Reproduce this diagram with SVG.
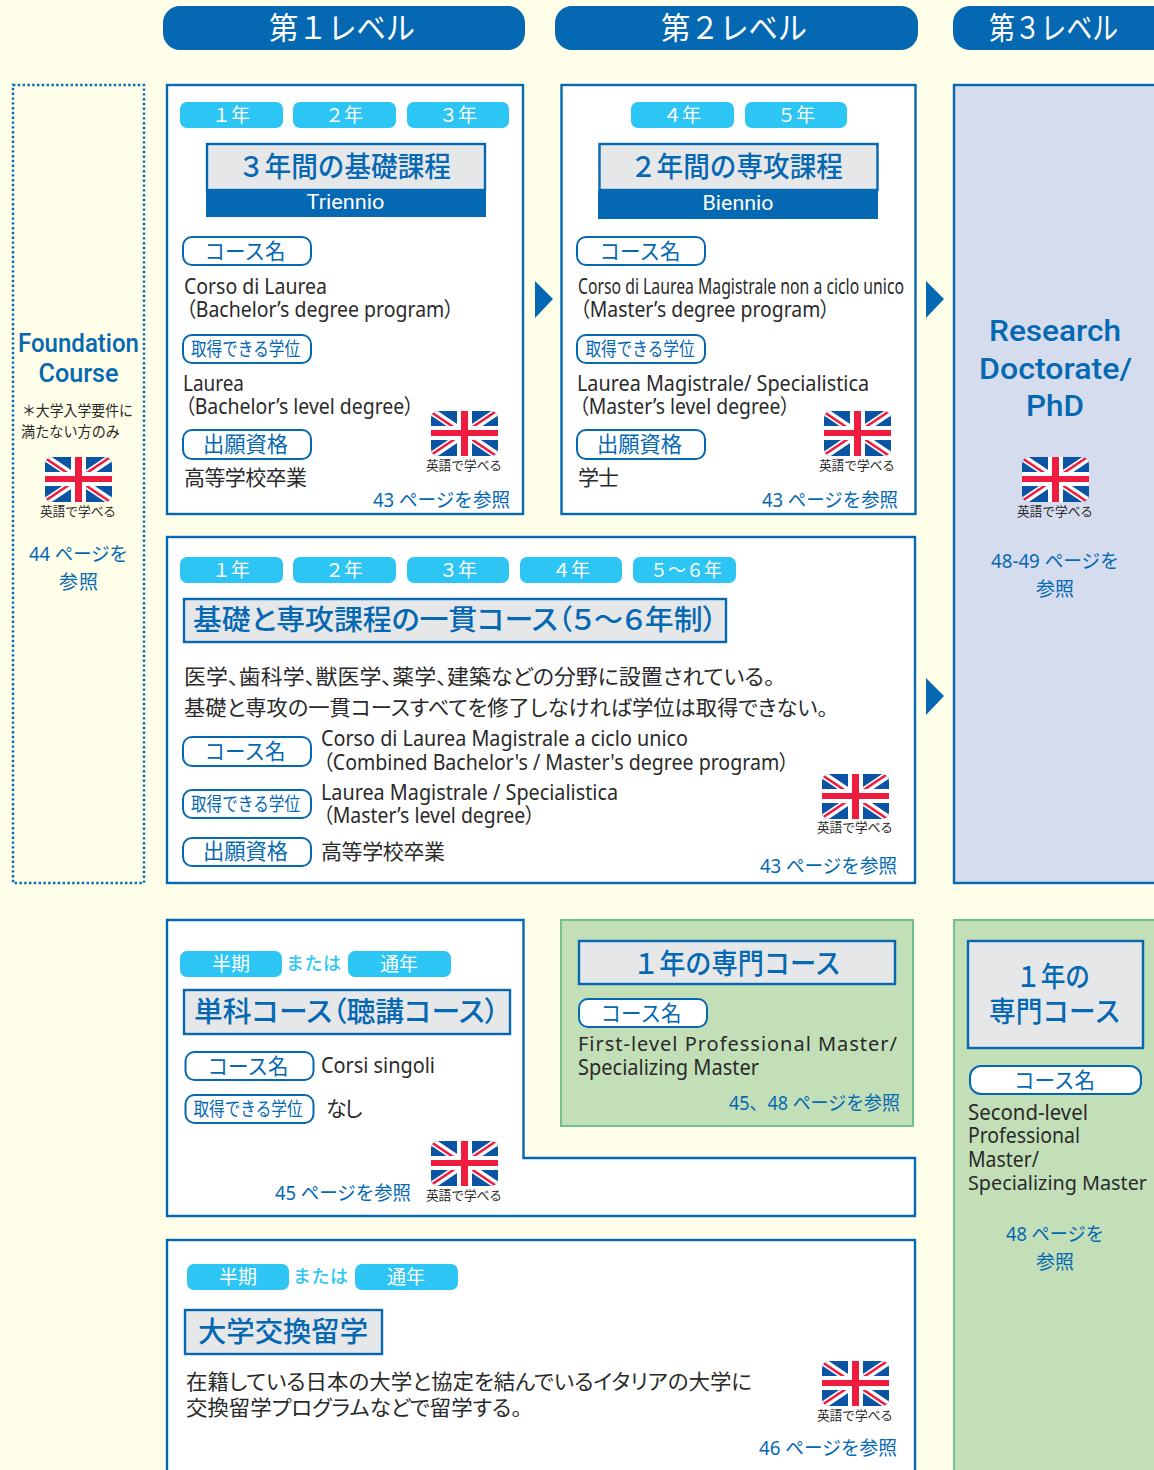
<svg xmlns="http://www.w3.org/2000/svg" width="1154" height="1470" viewBox="0 0 1154 1470">
<style>
text{font-family:"Noto Sans","Noto Sans CJK JP",sans-serif;fill:#2a2a2a;font-size:21px}
.j{font-family:"Noto Sans CJK JP","Noto Sans",sans-serif}
.p{font-feature-settings:"palt"}
.c{text-anchor:middle}
.hd{fill:#0568b3}
.ht{fill:#fff;font-size:31px;font-family:"Noto Sans CJK JP",sans-serif;text-anchor:middle}
.panel{fill:#fff;stroke:#0568b3;stroke-width:2.4}
.pill{fill:#2cc5f4}
.pt{fill:#fff;font-size:19px;font-family:"Noto Sans CJK JP",sans-serif;text-anchor:middle}
.or{fill:#2cc5f4;font-size:18px;font-weight:500;font-family:"Noto Sans CJK JP",sans-serif}
.tb{fill:#e6e7e9;stroke:#0568b3;stroke-width:2.4}
.tt{fill:#0568b3;font-size:28px;font-weight:500;font-family:"Noto Sans CJK JP",sans-serif}
.lb{fill:#fff;stroke:#0568b3;stroke-width:2}
.lt{fill:#0568b3;font-size:22px;font-family:"Noto Sans CJK JP",sans-serif;text-anchor:middle}
.ls{fill:#0568b3;font-size:19px;font-family:"Noto Sans CJK JP",sans-serif;text-anchor:middle}
.ref{fill:#0568b3;font-size:19px}
.cap{font-size:12.700px;font-family:"Noto Sans CJK JP",sans-serif;text-anchor:middle}
.big{fill:#0568b3;font-family:Roboto,"Noto Sans",sans-serif;font-weight:500;text-anchor:middle;font-size:30px}
.f{font-size:25px}
.bw{fill:#fff;font-family:Roboto,"Noto Sans",sans-serif;font-size:21px;text-anchor:middle}
.arrow{fill:#0568b3}
</style>
<defs>
<clipPath id="fc"><rect width="67" height="45" rx="7"/></clipPath>
<symbol id="flag" width="67" height="45" viewBox="0 0 67 45" overflow="visible">
<g clip-path="url(#fc)">
<rect width="67" height="45" fill="#0b54a3"/>
<path d="M0 0L67 45M67 0L0 45" stroke="#fff" stroke-width="7.500"/>
<path d="M0 1L67 46M67 -1L0 44" stroke="#ee1c3f" stroke-width="2.500"/>
<rect x="26" width="15" height="45" fill="#fff"/>
<rect y="15" width="67" height="14" fill="#fff"/>
<rect x="30" width="7" height="45" fill="#ee1c3f"/>
<rect y="19" width="67" height="6" fill="#ee1c3f"/>
</g>
</symbol>
</defs>
<rect width="1154" height="1470" fill="#fffee8"/>

<g id="header-1"><rect class="hd" x="163" y="6" width="362" height="44" rx="17"/><text class="ht" x="342" y="39" textLength="146" lengthAdjust="spacingAndGlyphs">第１レベル</text></g>
<g id="header-2"><rect class="hd" x="555" y="6" width="363" height="44" rx="17"/><text class="ht" x="734" y="39" textLength="146" lengthAdjust="spacingAndGlyphs">第２レベル</text></g>
<g id="header-3"><rect class="hd" x="953" y="6" width="220" height="44" rx="17"/><text class="ht" x="1053.500" y="39" textLength="129" lengthAdjust="spacingAndGlyphs">第３レベル</text></g>

<g id="foundation">
<rect x="13" y="85" width="131" height="798" fill="none" stroke="#0568b3" stroke-width="2.4" stroke-dasharray="2.4 2.4"/>
<text class="big f" x="78.500" y="352" textLength="121" lengthAdjust="spacingAndGlyphs">Foundation</text>
<text class="big f" x="78.500" y="382" textLength="80" lengthAdjust="spacingAndGlyphs">Course</text>
<text class="j" x="22" y="416" style="font-size:15px" textLength="111" lengthAdjust="spacingAndGlyphs">＊大学入学要件に</text>
<text class="j" x="21" y="437" style="font-size:15px" textLength="99" lengthAdjust="spacingAndGlyphs">満たない方のみ</text>
<use href="#flag" x="45" y="457"/>
<text class="cap" x="78" y="516">英語で学べる</text>
<text class="ref" x="29" y="561" textLength="99" lengthAdjust="spacingAndGlyphs">44 ページを</text>
<text class="ref j" x="59" y="589" textLength="39">参照</text>
</g>

<g id="triennio">
<rect class="panel" x="167" y="85" width="356" height="429"/>
<rect class="pill" x="180" y="102" width="103" height="26" rx="7"/><text class="pt" x="231" y="122">１年</text>
<rect class="pill" x="293" y="102" width="103" height="26" rx="7"/><text class="pt" x="344" y="122">２年</text>
<rect class="pill" x="407" y="102" width="102" height="26" rx="7"/><text class="pt" x="458" y="122">３年</text>
<rect class="tb" x="207" y="144" width="278" height="46"/>
<text class="tt" x="238" y="177" textLength="213" lengthAdjust="spacingAndGlyphs">３年間の基礎課程</text>
<rect class="hd" x="206" y="190" width="280" height="27"/>
<text class="bw" x="345.500" y="209" textLength="78" lengthAdjust="spacingAndGlyphs">Triennio</text>
<rect class="lb" x="183" y="237" width="128" height="28" rx="9"/><text class="lt" x="245" y="259" textLength="81" lengthAdjust="spacingAndGlyphs">コース名</text>
<text x="184" y="294" textLength="143" lengthAdjust="spacingAndGlyphs">Corso di Laurea</text>
<text class="p" x="186" y="317" textLength="268" lengthAdjust="spacingAndGlyphs">（Bachelor’s degree program）</text>
<rect class="lb" x="183" y="335" width="128" height="28" rx="9"/><text class="ls" x="245.500" y="356" textLength="109" lengthAdjust="spacingAndGlyphs">取得できる学位</text>
<text x="183" y="391" textLength="61" lengthAdjust="spacingAndGlyphs">Laurea</text>
<text class="p" x="185" y="414" textLength="229" lengthAdjust="spacingAndGlyphs">（Bachelor’s level degree）</text>
<rect class="lb" x="183" y="430" width="128" height="29" rx="9"/><text class="lt" x="245.500" y="452" textLength="85" lengthAdjust="spacingAndGlyphs">出願資格</text>
<text class="j" x="184" y="485" textLength="123">高等学校卒業</text>
<use href="#flag" x="431" y="411"/>
<text class="cap" x="464" y="470">英語で学べる</text>
<text class="ref" x="373" y="507" textLength="137" lengthAdjust="spacingAndGlyphs">43 ページを参照</text>
</g>

<g id="biennio">
<rect class="panel" x="561.500" y="85" width="354" height="429"/>
<rect class="pill" x="631" y="102" width="103" height="26" rx="7"/><text class="pt" x="682" y="122">４年</text>
<rect class="pill" x="745" y="102" width="102" height="26" rx="7"/><text class="pt" x="796" y="122">５年</text>
<rect class="tb" x="599.500" y="144" width="278" height="46"/>
<text class="tt" x="630" y="177" textLength="213" lengthAdjust="spacingAndGlyphs">２年間の専攻課程</text>
<rect class="hd" x="598" y="190" width="280" height="29"/>
<text class="bw" x="738" y="210" textLength="71" lengthAdjust="spacingAndGlyphs">Biennio</text>
<rect class="lb" x="577" y="237" width="128" height="28" rx="9"/><text class="lt" x="640" y="259" textLength="81" lengthAdjust="spacingAndGlyphs">コース名</text>
<text x="578" y="294" textLength="326" lengthAdjust="spacingAndGlyphs">Corso di Laurea Magistrale non a ciclo unico</text>
<text class="p" x="580" y="317" textLength="250" lengthAdjust="spacingAndGlyphs">（Master’s degree program）</text>
<rect class="lb" x="577" y="335" width="128" height="28" rx="9"/><text class="ls" x="640" y="356" textLength="109" lengthAdjust="spacingAndGlyphs">取得できる学位</text>
<text x="577" y="391" textLength="292" lengthAdjust="spacingAndGlyphs">Laurea Magistrale/ Specialistica</text>
<text class="p" x="579" y="414" textLength="211" lengthAdjust="spacingAndGlyphs">（Master’s level degree）</text>
<rect class="lb" x="577" y="430" width="128" height="29" rx="9"/><text class="lt" x="639.500" y="452" textLength="85" lengthAdjust="spacingAndGlyphs">出願資格</text>
<text class="j" x="578" y="485" textLength="41">学士</text>
<use href="#flag" x="824" y="411"/>
<text class="cap" x="857" y="470">英語で学べる</text>
<text class="ref" x="762" y="507" textLength="136" lengthAdjust="spacingAndGlyphs">43 ページを参照</text>
</g>

<g id="research-doctorate">
<rect x="954" y="85" width="210" height="798" fill="#d4dcee" stroke="#0568b3" stroke-width="2.4"/>
<text class="big" x="1055" y="341" textLength="132" lengthAdjust="spacingAndGlyphs">Research</text>
<text class="big" x="1055.500" y="379" textLength="153" lengthAdjust="spacingAndGlyphs">Doctorate/</text>
<text class="big" x="1055" y="416" textLength="58" lengthAdjust="spacingAndGlyphs">PhD</text>
<use href="#flag" x="1022" y="457"/>
<text class="cap" x="1055" y="516">英語で学べる</text>
<text class="ref" x="991" y="568" textLength="128" lengthAdjust="spacingAndGlyphs">48-49 ページを</text>
<text class="ref j" x="1036" y="596" textLength="38">参照</text>
</g>

<g id="ciclo-unico">
<rect class="panel" x="167" y="537" width="748" height="346"/>
<rect class="pill" x="180" y="557" width="103" height="26" rx="7"/><text class="pt" x="231" y="577">１年</text>
<rect class="pill" x="293" y="557" width="103" height="26" rx="7"/><text class="pt" x="344" y="577">２年</text>
<rect class="pill" x="407" y="557" width="102" height="26" rx="7"/><text class="pt" x="458" y="577">３年</text>
<rect class="pill" x="520" y="557" width="102" height="26" rx="7"/><text class="pt" x="571" y="577">４年</text>
<rect class="pill" x="633" y="557" width="103" height="26" rx="7"/><text class="pt" x="686" y="577" textLength="72" lengthAdjust="spacingAndGlyphs">５～６年</text>
<rect class="tb" x="184" y="599" width="542" height="43"/>
<text class="tt p" x="193" y="630" textLength="524" lengthAdjust="spacingAndGlyphs">基礎と専攻課程の一貫コース（５～６年制）</text>
<text class="j p" x="184" y="684" textLength="591" lengthAdjust="spacingAndGlyphs">医学、歯科学、獣医学、薬学、建築などの分野に設置されている。</text>
<text class="j p" x="184" y="715" textLength="644" lengthAdjust="spacingAndGlyphs">基礎と専攻の一貫コースすべてを修了しなければ学位は取得できない。</text>
<rect class="lb" x="183" y="737" width="128" height="29" rx="9"/><text class="lt" x="245" y="759" textLength="81" lengthAdjust="spacingAndGlyphs">コース名</text>
<text x="321" y="746" textLength="367" lengthAdjust="spacingAndGlyphs">Corso di Laurea Magistrale a ciclo unico</text>
<text class="p" x="323" y="770" textLength="466" lengthAdjust="spacingAndGlyphs">（Combined Bachelor's / Master's degree program）</text>
<rect class="lb" x="183" y="790" width="128" height="28" rx="9"/><text class="ls" x="245.500" y="811" textLength="109" lengthAdjust="spacingAndGlyphs">取得できる学位</text>
<text x="321" y="800" textLength="297" lengthAdjust="spacingAndGlyphs">Laurea Magistrale / Specialistica</text>
<text class="p" x="323" y="823" textLength="212" lengthAdjust="spacingAndGlyphs">（Master’s level degree）</text>
<rect class="lb" x="183" y="838" width="128" height="28" rx="9"/><text class="lt" x="245.500" y="859" textLength="85" lengthAdjust="spacingAndGlyphs">出願資格</text>
<text class="j" x="321" y="859" textLength="124">高等学校卒業</text>
<use href="#flag" x="822" y="774"/>
<text class="cap" x="855" y="832">英語で学べる</text>
<text class="ref" x="760" y="873" textLength="137" lengthAdjust="spacingAndGlyphs">43 ページを参照</text>
</g>

<g id="corsi-singoli">
<path class="panel" d="M167 920H523.500V1158H915V1216H167Z"/>
<rect class="pill" x="180" y="951" width="102" height="26" rx="7"/><text class="pt" x="231" y="971">半期</text>
<text class="or" x="286" y="970" textLength="55">または</text>
<rect class="pill" x="348" y="951" width="103" height="26" rx="7"/><text class="pt" x="399" y="971">通年</text>
<rect class="tb" x="184" y="990" width="326" height="44"/>
<text class="tt p" x="194" y="1022" textLength="305" lengthAdjust="spacingAndGlyphs">単科コース（聴講コース）</text>
<rect class="lb" x="185.500" y="1052" width="128" height="28" rx="9"/><text class="lt" x="248" y="1074" textLength="81" lengthAdjust="spacingAndGlyphs">コース名</text>
<text x="321" y="1073" textLength="114" lengthAdjust="spacingAndGlyphs">Corsi singoli</text>
<rect class="lb" x="185.500" y="1095" width="128" height="28" rx="9"/><text class="ls" x="248" y="1116" textLength="109" lengthAdjust="spacingAndGlyphs">取得できる学位</text>
<text class="j" x="326" y="1116" textLength="38">なし</text>
<use href="#flag" x="431" y="1141"/>
<text class="cap" x="464" y="1200">英語で学べる</text>
<text class="ref" x="275" y="1200" textLength="136" lengthAdjust="spacingAndGlyphs">45 ページを参照</text>
</g>

<g id="first-level-master">
<rect x="561" y="920" width="352" height="206" fill="#c2dfb8" stroke="#6fc28f" stroke-width="2"/>
<rect class="tb" x="579" y="941" width="316" height="43"/>
<text class="tt" x="633" y="974" textLength="208" lengthAdjust="spacingAndGlyphs">１年の専門コース</text>
<rect class="lb" x="579" y="999" width="128" height="28" rx="9"/><text class="lt" x="641" y="1021" textLength="81" lengthAdjust="spacingAndGlyphs">コース名</text>
<text x="578" y="1051" style="font-size:20px" textLength="319">First-level Professional Master/</text>
<text x="578" y="1075" textLength="181" lengthAdjust="spacingAndGlyphs">Specializing Master</text>
<text class="ref" x="729" y="1110" textLength="171" lengthAdjust="spacingAndGlyphs">45、48 ページを参照</text>
</g>

<g id="second-level-master">
<rect x="954" y="920" width="210" height="560" fill="#c2dfb8" stroke="#6fc28f" stroke-width="2"/>
<rect class="tb" x="968" y="941" width="175" height="107"/>
<text class="tt c" x="1053" y="987" textLength="74" lengthAdjust="spacingAndGlyphs">１年の</text>
<text class="tt c" x="1055" y="1022" textLength="132" lengthAdjust="spacingAndGlyphs">専門コース</text>
<rect class="lb" x="970" y="1066" width="171" height="28" rx="11"/><text class="lt" x="1054.500" y="1088" textLength="81" lengthAdjust="spacingAndGlyphs">コース名</text>
<text x="968" y="1120" textLength="120" lengthAdjust="spacingAndGlyphs">Second-level</text>
<text x="968" y="1143" textLength="112" lengthAdjust="spacingAndGlyphs">Professional</text>
<text x="968" y="1167" textLength="71" lengthAdjust="spacingAndGlyphs">Master/</text>
<text x="968" y="1190" style="font-size:20.500px" textLength="179" lengthAdjust="spacingAndGlyphs">Specializing Master</text>
<text class="ref" x="1006" y="1241" textLength="98" lengthAdjust="spacingAndGlyphs">48 ページを</text>
<text class="ref j" x="1036" y="1269" textLength="38">参照</text>
</g>

<g id="exchange">
<rect class="panel" x="167" y="1240" width="748" height="250"/>
<rect class="pill" x="187" y="1264" width="102" height="26" rx="7"/><text class="pt" x="238" y="1284">半期</text>
<text class="or" x="293" y="1283" textLength="55">または</text>
<rect class="pill" x="355" y="1264" width="103" height="26" rx="7"/><text class="pt" x="406" y="1284">通年</text>
<rect class="tb" x="185" y="1310" width="197" height="44"/>
<text class="tt" x="198" y="1342" textLength="170" lengthAdjust="spacingAndGlyphs">大学交換留学</text>
<text class="j p" x="186" y="1389" textLength="566" lengthAdjust="spacingAndGlyphs">在籍している日本の大学と協定を結んでいるイタリアの大学に</text>
<text class="j p" x="186" y="1415" textLength="336" lengthAdjust="spacingAndGlyphs">交換留学プログラムなどで留学する。</text>
<use href="#flag" x="822" y="1361"/>
<text class="cap" x="855" y="1420">英語で学べる</text>
<text class="ref" x="759" y="1455" textLength="138" lengthAdjust="spacingAndGlyphs">46 ページを参照</text>
</g>

<g id="connectors">
<polygon class="arrow" points="535,281 553,299 535,318"/>
<polygon class="arrow" points="926,281 944,299 926,318"/>
<polygon class="arrow" points="926,678 944,696 926,715"/>
</g>
</svg>
